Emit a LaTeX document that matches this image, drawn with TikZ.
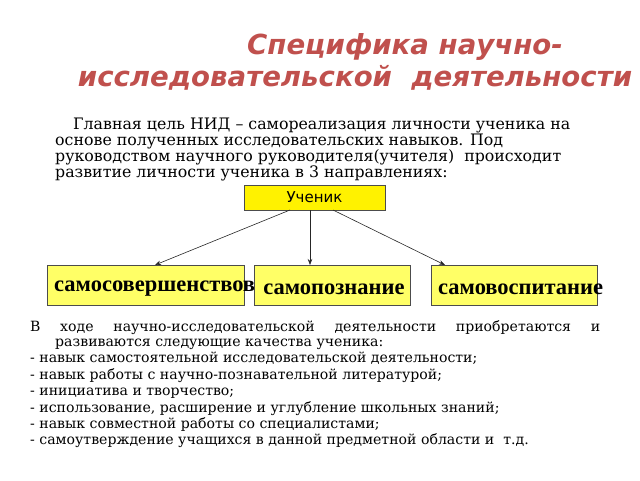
\documentclass[tikz,border=0pt]{standalone}
\usepackage{fontspec}
\setmainfont{DejaVu Serif}
\newfontfamily\dvs{DejaVu Sans}
\newfontfamily\lserif{Liberation Serif}
\usetikzlibrary{arrows.meta}
\definecolor{ttl}{HTML}{C0504D}
\definecolor{lyel}{HTML}{FFFF66}
\begin{document}
\begin{tikzpicture}[x=1pt,y=-1pt,
  ttlstyle/.style={font=\dvs\bfseries\itshape\fontsize{27.6}{30}\selectfont,text=ttl,inner sep=0},
  para/.style={anchor=base west,inner sep=0,font=\fontsize{15.8}{17}\selectfont},
  lst/.style={anchor=base west,inner sep=0,font=\fontsize{14.1}{15}\selectfont},
  boxfont/.style={font=\lserif\bfseries\fontsize{22.5}{24}\selectfont},
  lowbox/.style={draw=black!70,fill=lyel,anchor=north west,inner sep=0},
  arr/.style={-{Stealth[length=6pt,width=4.5pt]},black!85,line width=0.6pt}]
\useasboundingbox (0,0) rectangle (640,480);
\node[ttlstyle] (t1) at (405,47) {Специфика научно-};
\node[ttlstyle] (t2) at (355,78) {исследовательской\ \ деятельности};
\node[para] (p1) at (73,129) {Главная цель НИД – самореализация личности ученика на};
\node[para] (p2) at (55,145) {основе полученных исследовательских навыков. Под};
\node[para] (p3) at (55,161) {руководством научного руководителя(учителя)\ \ происходит};
\node[para] (p4) at (55,177) {развитие личности ученика в 3 направлениях:};
\node[draw=black!70,fill=yellow,minimum width=141pt,minimum height=25pt,inner sep=0,font=\dvs\fontsize{15}{17}\selectfont] (u) at (314.5,197.5) {Ученик};
\node[lowbox,minimum width=197pt,minimum height=40pt] (b1) at (47,265) {};
\begin{scope}
\clip (40,260) rectangle (254,310);
\node[anchor=west,inner sep=0,boxfont] (b1t) at (54,289) {самосовершенствование};
\end{scope}
\node[lowbox,minimum width=156pt,minimum height=40pt] (b2) at (254,265) {};
\node[boxfont,inner sep=0] (b2t) at (334,289) {самопознание};
\node[lowbox,minimum width=166pt,minimum height=40pt] (b3) at (431,265) {};
\node[anchor=west,inner sep=0,boxfont] (b3t) at (438,289) {самовоспитание};
\coordinate (s1) at (290,210); \coordinate (s2) at (310,210); \coordinate (s3) at (333,210);
\coordinate (e1) at (155,265); \coordinate (e2) at (310,265); \coordinate (e3) at (445,265);
\draw[arr] (s1) -- (e1);
\draw[arr] (s2) -- (e2);
\draw[arr] (s3) -- (e3);
\node[lst] (l1) at (30,331) {\makebox[570pt][s]{В ходе научно-исследовательской деятельности приобретаются и}};
\node[lst] (l2) at (55,346) {развиваются следующие качества ученика:};
\node[lst] (l3) at (30,362) {- навык самостоятельной исследовательской деятельности;};
\node[lst] (l4) at (30,379) {- навык работы с научно-познавательной литературой;};
\node[lst] (l5) at (30,395) {- инициатива и творчество;};
\node[lst] (l6) at (30,412) {- использование, расширение и углубление школьных знаний;};
\node[lst] (l7) at (30,428) {- навык совместной работы со специалистами;};
\node[lst] (l8) at (30,444) {- самоутверждение учащихся в данной предметной области и\ \ т.д.};
\end{tikzpicture}
\end{document}
